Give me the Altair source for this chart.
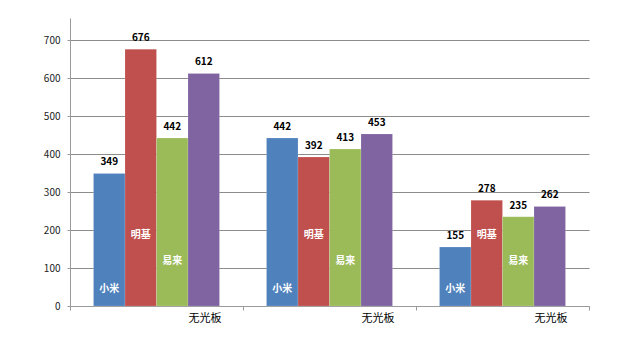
import json
import altair as alt
import pandas as pd

# ---- data ----
groups = ["无光板", "无光板", "无光板"]
series_names = ["小米", "明基", "易来", ""]
series_colors = ["#4F81BD", "#C0504D", "#9BBB59", "#8064A2"]
values = [
    [349, 676, 442, 612],
    [442, 392, 413, 453],
    [155, 278, 235, 262],
]
# vertical anchor (in data units) of the in-bar series names
name_y = [45, 187, 118, None]
y_ticks = [0, 100, 200, 300, 400, 500, 600, 700]

group_ids = [str(i) for i in range(len(groups))]
series_ids = [f"s{j}" for j in range(len(series_names))]

rows = []
name_rows = []
for gi, g in enumerate(group_ids):
    for sj, s in enumerate(series_ids):
        rows.append({"group": g, "series": s, "value": values[gi][sj]})
        if series_names[sj] and name_y[sj] is not None:
            name_rows.append({"group": g, "series": s, "ny": name_y[sj], "name": series_names[sj]})
df = pd.DataFrame(rows)
df_names = pd.DataFrame(name_rows)

FONT = "Noto Sans CJK SC"
label_expr = json.dumps(groups, ensure_ascii=False) + "[toNumber(datum.value)]"

x_scale = alt.Scale(domain=group_ids, paddingInner=0, paddingOuter=0)
xo = alt.XOffset("series:N", sort=series_ids,
                 scale=alt.Scale(domain=series_ids, paddingInner=0, paddingOuter=0.746))
y_scale = alt.Scale(domain=[0, 758], nice=False, zero=True)

x_axis = alt.Axis(
    title=None, labelExpr=label_expr, labelAngle=0, tickBand="extent",
    labelOffset=48, domainColor="#9a9a9a", tickColor="#9a9a9a", tickSize=4,
    labelFont=FONT, labelFontSize=11, labelColor="#000000", labelPadding=2, grid=False,
)
y_axis = alt.Axis(
    title=None, values=y_ticks, domainColor="#9a9a9a", tickColor="#9a9a9a", tickSize=3,
    gridColor="#8c8c8c", gridWidth=1, labelFont=FONT, labelFontSize=10,
    labelColor="#222222", labelPadding=7,
)

bars = alt.Chart(df).mark_bar(stroke="#ffffff", strokeWidth=0.3, strokeOpacity=0.5).encode(
    x=alt.X("group:N", sort=group_ids, scale=x_scale, axis=x_axis),
    xOffset=xo,
    y=alt.Y("value:Q", scale=y_scale, axis=y_axis),
    color=alt.Color("series:N", scale=alt.Scale(domain=series_ids, range=series_colors), legend=None),
)

value_text = alt.Chart(df).mark_text(
    font=FONT, fontSize=10, fontWeight="bold", color="#000000", baseline="middle", dy=-11
).encode(
    x=alt.X("group:N", sort=group_ids, scale=x_scale, axis=x_axis),
    xOffset=xo,
    y=alt.Y("value:Q", scale=y_scale, axis=y_axis),
    text=alt.Text("value:Q"),
)

name_text = alt.Chart(df_names).mark_text(
    font=FONT, fontSize=10, fontWeight="bold", color="#ffffff", baseline="middle"
).encode(
    x=alt.X("group:N", sort=group_ids, scale=x_scale, axis=x_axis),
    xOffset=xo,
    y=alt.Y("ny:Q", scale=y_scale, axis=y_axis),
    text="name:N",
)

chart = alt.layer(bars, value_text, name_text).properties(
    width=519, height=288,
    autosize=alt.AutoSizeParams(type="none"),
    padding={"left": 70, "top": 18, "right": 52, "bottom": 52},
    background="#ffffff",
).configure_view(stroke=None)

chart.save("out.html", embed_options={"renderer": "svg", "actions": False})
